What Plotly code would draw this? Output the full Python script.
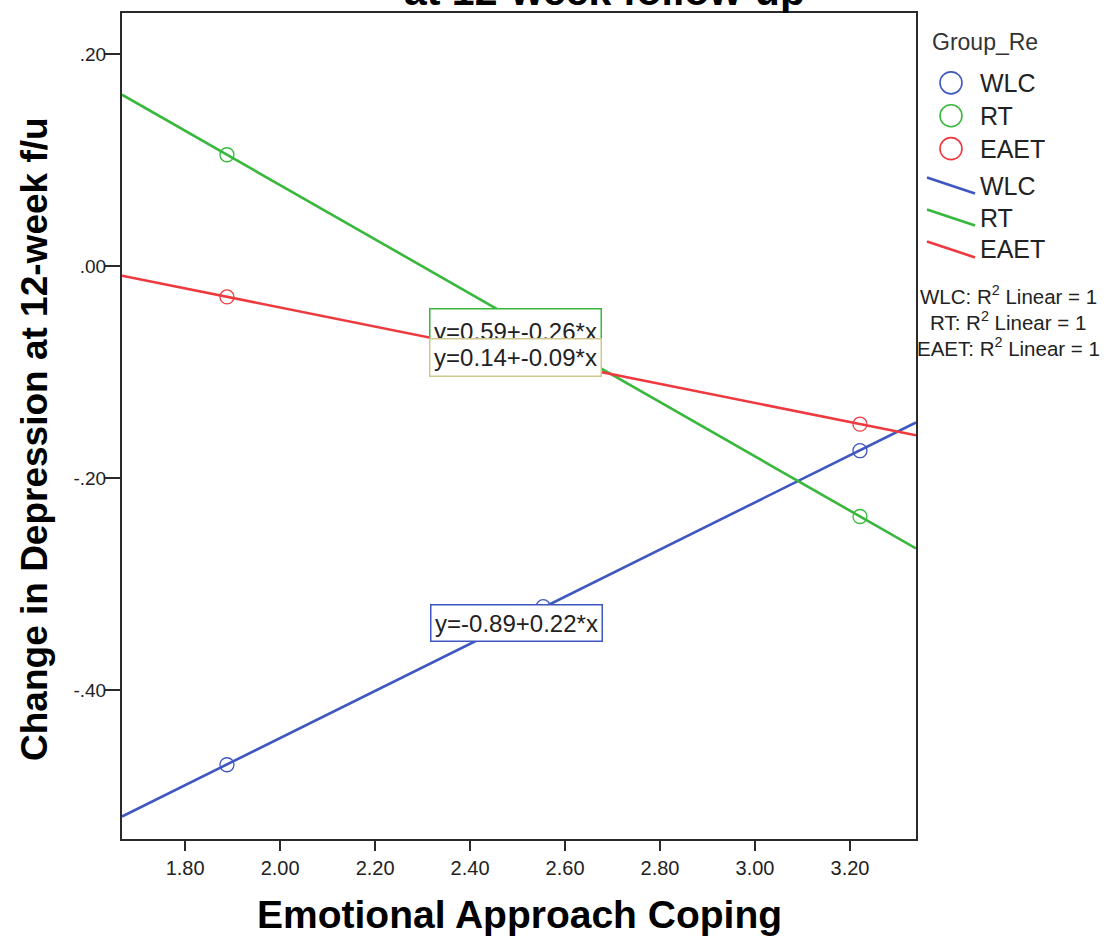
import plotly.graph_objects as go

# ---- data ----
groups = ["WLC", "RT", "EAET"]
colors = ["#3f57c0", "#37b83c", "#ee3a3f"]
box_colors = ["#3f57c0", "#37b83c", "#cfc88e"]
wlc_x = [1.888, 2.554, 3.221]
wlc_y = [-0.470, -0.321, -0.174]
rt_x = [1.888, 3.221]
rt_y = [0.105, -0.236]
eaet_x = [1.888, 3.221]
eaet_y = [-0.029, -0.149]
intercepts = [-0.889, 0.588, 0.141]
slopes = [0.2221, -0.2558, -0.0900]
eq_labels = ["y=-0.89+0.22*x", "y=0.59+-0.26*x", "y=0.14+-0.09*x"]
eq_pos_x = [2.497, 2.496, 2.496]
eq_pos_y = [-0.3365, -0.0580, -0.0865]
eq_heights = [33, 34, 34]
eq_valign = ["middle", "bottom", "middle"]
x_ticks = [1.8, 2.0, 2.2, 2.4, 2.6, 2.8, 3.0, 3.2]
x_ticktext = ["1.80", "2.00", "2.20", "2.40", "2.60", "2.80", "3.00", "3.20"]
y_ticks = [0.2, 0.0, -0.2, -0.4]
y_ticktext = [".20", ".00", "-.20", "-.40"]
x_range = [1.667, 3.339]
y_range = [-0.540, 0.2386]
r2_labels = ["WLC: R<sup>2</sup> Linear = 1", "RT: R<sup>2</sup> Linear = 1", "EAET: R<sup>2</sup> Linear = 1"]

W, H = 1109, 941
L, R, T, B = 122, 916, 11, 839
FONT = "Arial, Liberation Sans, sans-serif"

def px(xp):
    return (xp - L) / (R - L)

def py(yp):
    return (B - yp) / (B - T)

fig = go.Figure()
xs_all = [wlc_x, rt_x, eaet_x]
ys_all = [wlc_y, rt_y, eaet_y]

for g, c, a, b in zip(groups, colors, intercepts, slopes):
    fig.add_trace(go.Scatter(x=x_range, y=[a + b * x_range[0], a + b * x_range[1]],
                             mode="lines", line=dict(color=c, width=2.6),
                             showlegend=False, hoverinfo="skip"))
for g, c, xs, ys in zip(groups, colors, xs_all, ys_all):
    fig.add_trace(go.Scatter(x=xs, y=ys, mode="markers", name=g,
                             marker=dict(symbol="circle-open", size=14, color=c,
                                         line=dict(width=1.3, color=c)),
                             showlegend=False))

ann = []
# equation labels (WLC, RT, EAET order so EAET covers RT)
for lbl, c, xx, yy, hh, va in zip(eq_labels, box_colors, eq_pos_x, eq_pos_y, eq_heights, eq_valign):
    ann.append(dict(x=xx, y=yy, xref="x", yref="y", text=lbl, showarrow=False,
                    font=dict(family=FONT, size=24, color="#222"),
                    bgcolor="white", bordercolor=c, borderwidth=1.5, borderpad=1,
                    width=168, height=hh, valign=va,
                    xanchor="center", yanchor="middle"))

# title (cut off at top)
ann.append(dict(x=px(604), y=py(14), xref="paper", yref="paper",
                text="<b>at 12-week follow-up</b>", showarrow=False,
                font=dict(family=FONT, size=41, color="black"),
                xanchor="center", yanchor="bottom"))
# axis titles
ann.append(dict(x=px(519), y=py(915), xref="paper", yref="paper",
                text="<b>Emotional Approach Coping</b>", showarrow=False,
                font=dict(family=FONT, size=39, color="black"),
                xanchor="center", yanchor="middle"))
ann.append(dict(x=px(35), y=py(438), xref="paper", yref="paper",
                text="<b>Change in Depression at 12-week f/u</b>", showarrow=False,
                textangle=-90,
                font=dict(family=FONT, size=37, color="black"),
                xanchor="center", yanchor="middle"))

# legend
ann.append(dict(x=px(930), y=py(40), xref="paper", yref="paper", text="Group_Re",
                showarrow=False, font=dict(family=FONT, size=23, color="#333"),
                xanchor="left", yanchor="middle"))
shapes = []
circle_y = [81, 114, 147]
line_y = [184, 216, 248]
for i, (g, c) in enumerate(zip(groups, colors)):
    cy = circle_y[i]
    shapes.append(dict(type="circle", xref="paper", yref="paper",
                       xsizemode="pixel", ysizemode="pixel",
                       xanchor=px(951), yanchor=py(cy),
                       x0=-11, x1=11, y0=-11, y1=11,
                       line=dict(color=c, width=1.6), fillcolor="rgba(0,0,0,0)"))
    ann.append(dict(x=px(978), y=py(cy), xref="paper", yref="paper", text=g,
                    showarrow=False, font=dict(family=FONT, size=25, color="#222"),
                    xanchor="left", yanchor="middle"))
    ly = line_y[i]
    shapes.append(dict(type="line", xref="paper", yref="paper",
                       x0=px(927), y0=py(ly - 8), x1=px(975), y1=py(ly + 8),
                       line=dict(color=c, width=2.6)))
    ann.append(dict(x=px(978), y=py(ly), xref="paper", yref="paper", text=g,
                    showarrow=False, font=dict(family=FONT, size=25, color="#222"),
                    xanchor="left", yanchor="middle"))
r2_y = [294, 320, 346]
for lbl, yy in zip(r2_labels, r2_y):
    ann.append(dict(x=px(1008), y=py(yy), xref="paper", yref="paper", text=lbl,
                    showarrow=False, font=dict(family=FONT, size=20.5, color="#222"),
                    xanchor="center", yanchor="middle"))

fig.update_layout(
    width=W, height=H,
    margin=dict(l=L, r=W - R, t=T, b=H - B, pad=0),
    paper_bgcolor="white", plot_bgcolor="white",
    showlegend=False,
    annotations=ann, shapes=shapes,
    xaxis=dict(range=x_range, tickvals=x_ticks, ticktext=x_ticktext,
               showgrid=False, zeroline=False, showline=True, linecolor="#2a2a2a",
               linewidth=2, mirror=True, ticks="outside", ticklen=10, tickwidth=2,
               tickcolor="#2a2a2a", tickfont=dict(family=FONT, size=20, color="#222")),
    yaxis=dict(range=y_range, tickvals=y_ticks, ticktext=y_ticktext,
               showgrid=False, zeroline=False, showline=True, linecolor="#2a2a2a",
               linewidth=2, mirror=True, ticks="outside", ticklen=15, tickwidth=2,
               tickcolor="#2a2a2a", tickfont=dict(family=FONT, size=19, color="#222")),
)
try:
    fig.update_yaxes(ticklabelstandoff=-5)
except Exception:
    pass

fig.write_html("out.html")
